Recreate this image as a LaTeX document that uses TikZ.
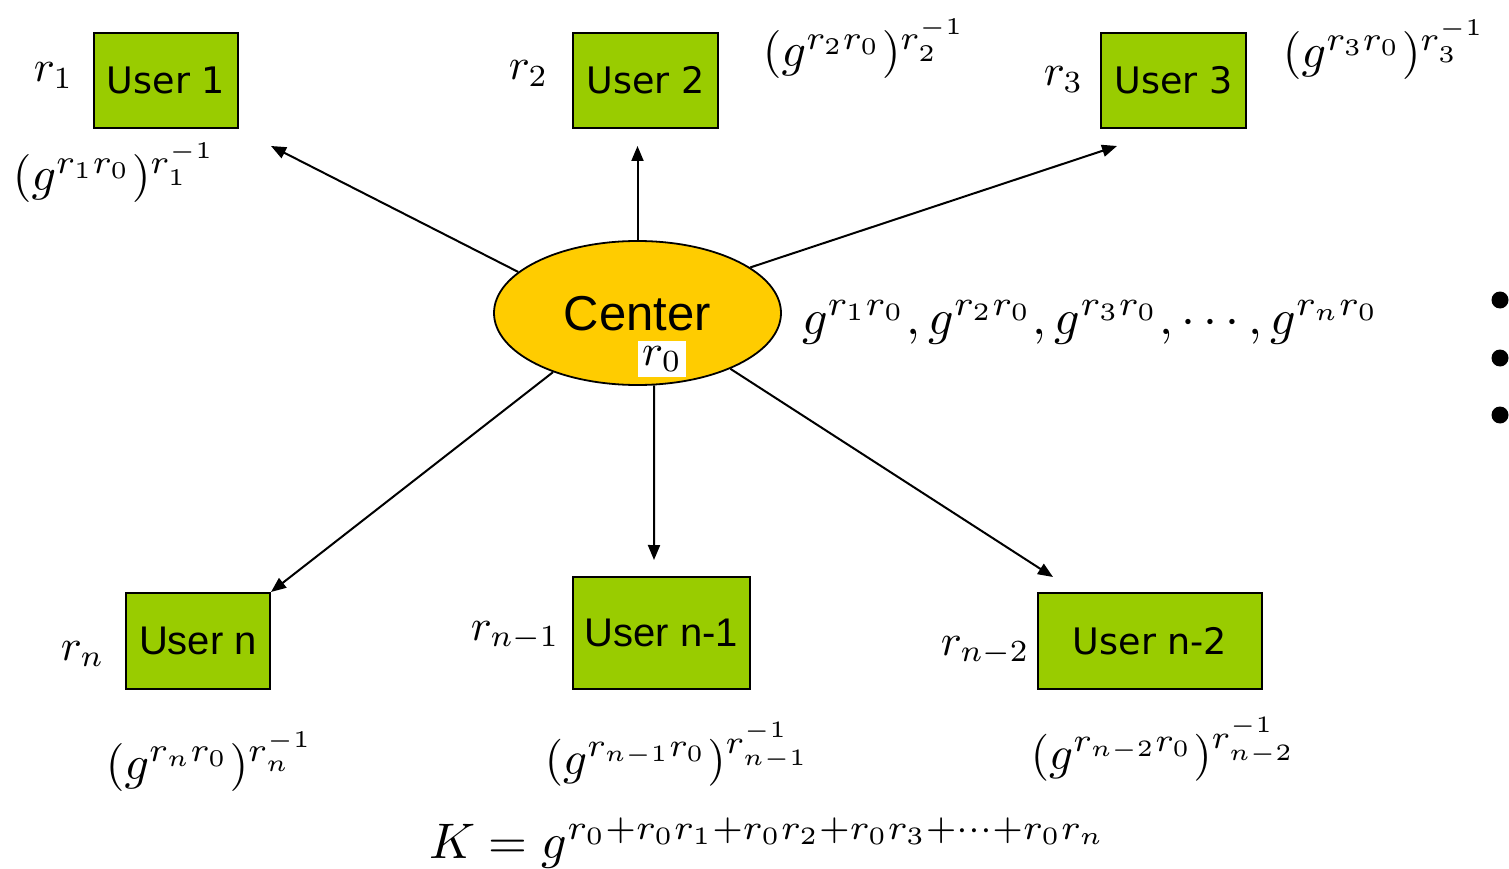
\documentclass[tikz,border=0pt]{standalone}
\usepackage{fontspec}
\newfontfamily\dvs{DejaVu Sans}
\newfontfamily\lib{Liberation Sans}
\usetikzlibrary{shapes.geometric,arrows.meta}
\definecolor{ugreen}{HTML}{99CC00}
\definecolor{cyel}{HTML}{FFCC00}
\tikzset{
  userbox/.style={draw=black, line width=2pt, fill=ugreen, inner sep=0pt, text=black},
  dvtext/.style={font=\dvs\fontsize{36.5}{40}\selectfont},
  lbtext/.style={font=\lib\fontsize{40}{44}\selectfont},
  lab/.style={inner sep=0pt, anchor=base west, scale=4.4},
  form/.style={inner sep=0pt, anchor=base west, scale=4.8},
  conn/.style={line width=2pt, -{Triangle[length=15pt,width=12pt]}},
  bullet/.style={circle, fill=black, inner sep=0pt, minimum size=17pt},
}
\begin{document}
\begin{tikzpicture}[x=1pt,y=-1pt]
\useasboundingbox (0,0) rectangle (1509,869);

% center
\node[ellipse, draw=black, line width=1.8pt, fill=cyel, minimum width=287pt, minimum height=144pt, inner sep=0pt] (C) at (637.5,313) {};
\node[inner sep=0pt, font=\lib\fontsize{49}{56}\selectfont, anchor=base] (ctext) at (637.5,330) {Center};
\node[fill=white, inner sep=0pt, minimum width=48pt, minimum height=36pt] (r0) at (662,359) {\scalebox{4.4}{$r_0$}};

% users
\node[userbox, dvtext, minimum width=144pt, minimum height=95pt] (u1) at (166,80.5) {User 1};
\node[userbox, dvtext, minimum width=145pt, minimum height=95pt] (u2) at (645.5,80.5) {User 2};
\node[userbox, dvtext, minimum width=145pt, minimum height=95pt] (u3) at (1173.5,80.5) {User 3};
\node[userbox, lbtext, minimum width=144pt, minimum height=96pt] (un) at (198,641) {User n};
\node[userbox, lbtext, minimum width=177pt, minimum height=112pt] (un1) at (661.5,633) {User n-1};
\node[userbox, dvtext, minimum width=224pt, minimum height=96pt] (un2) at (1150,641) {User n-2};

% arrow ends
\coordinate (t1) at (271,146);
\coordinate (t2) at (637.5,146);
\coordinate (t3) at (1117,146);
\coordinate (tn1) at (654,560);
\coordinate (tn2) at (1053,577);

\draw[conn] (C.161.8) -- (t1);
\draw[conn] (C.90) -- (t2);
\draw[conn] (C.22.1) -- (t3);
\draw[conn] (C.215.7) -- (un.north east);
\draw[conn] (C.283.3) -- (tn1);
\draw[conn] (C.329.7) -- (tn2);

% labels
\node[lab] (lr1) at (33,82) {$r_1$};
\node[form] (f1) at (12,191) {$(g^{r_1 r_0})^{r_1^{-1}}$};
\node[lab] (lr2) at (508,80) {$r_2$};
\node[form] (f2) at (762,67) {$(g^{r_2 r_0})^{r_2^{-1}}$};
\node[lab] (lr3) at (1043,86) {$r_3$};
\node[form] (f3) at (1282,68) {$(g^{r_3 r_0})^{r_3^{-1}}$};
\node[form, scale=5.0/4.8] (gl) at (801,334) {$g^{r_1 r_0}, g^{r_2 r_0}, g^{r_3 r_0}, \cdots, g^{r_n r_0}$};
\node[lab] (lrn) at (60,660) {$r_n$};
\node[form] (fn) at (105,779) {$(g^{r_n r_0})^{r_n^{-1}}$};
\node[lab] (lrn1) at (470,640) {$r_{n-1}$};
\node[form, scale=4.7/4.8] (fn1) at (544,774) {$(g^{r_{n-1} r_0})^{r_{n-1}^{-1}}$};
\node[lab] (lrn2) at (940,655) {$r_{n-2}$};
\node[form, scale=4.7/4.8] (fn2) at (1030,769) {$(g^{r_{n-2} r_0})^{r_{n-2}^{-1}}$};
\node[form, scale=5.0/4.8] (K) at (428,858) {$K = g^{r_0 + r_0 r_1 + r_0 r_2 + r_0 r_3 + \cdots + r_0 r_n}$};

% bullets
\node[bullet] (b1) at (1500,300) {};
\node[bullet] (b2) at (1500,358) {};
\node[bullet] (b3) at (1500,415) {};
\end{tikzpicture}
\end{document}
